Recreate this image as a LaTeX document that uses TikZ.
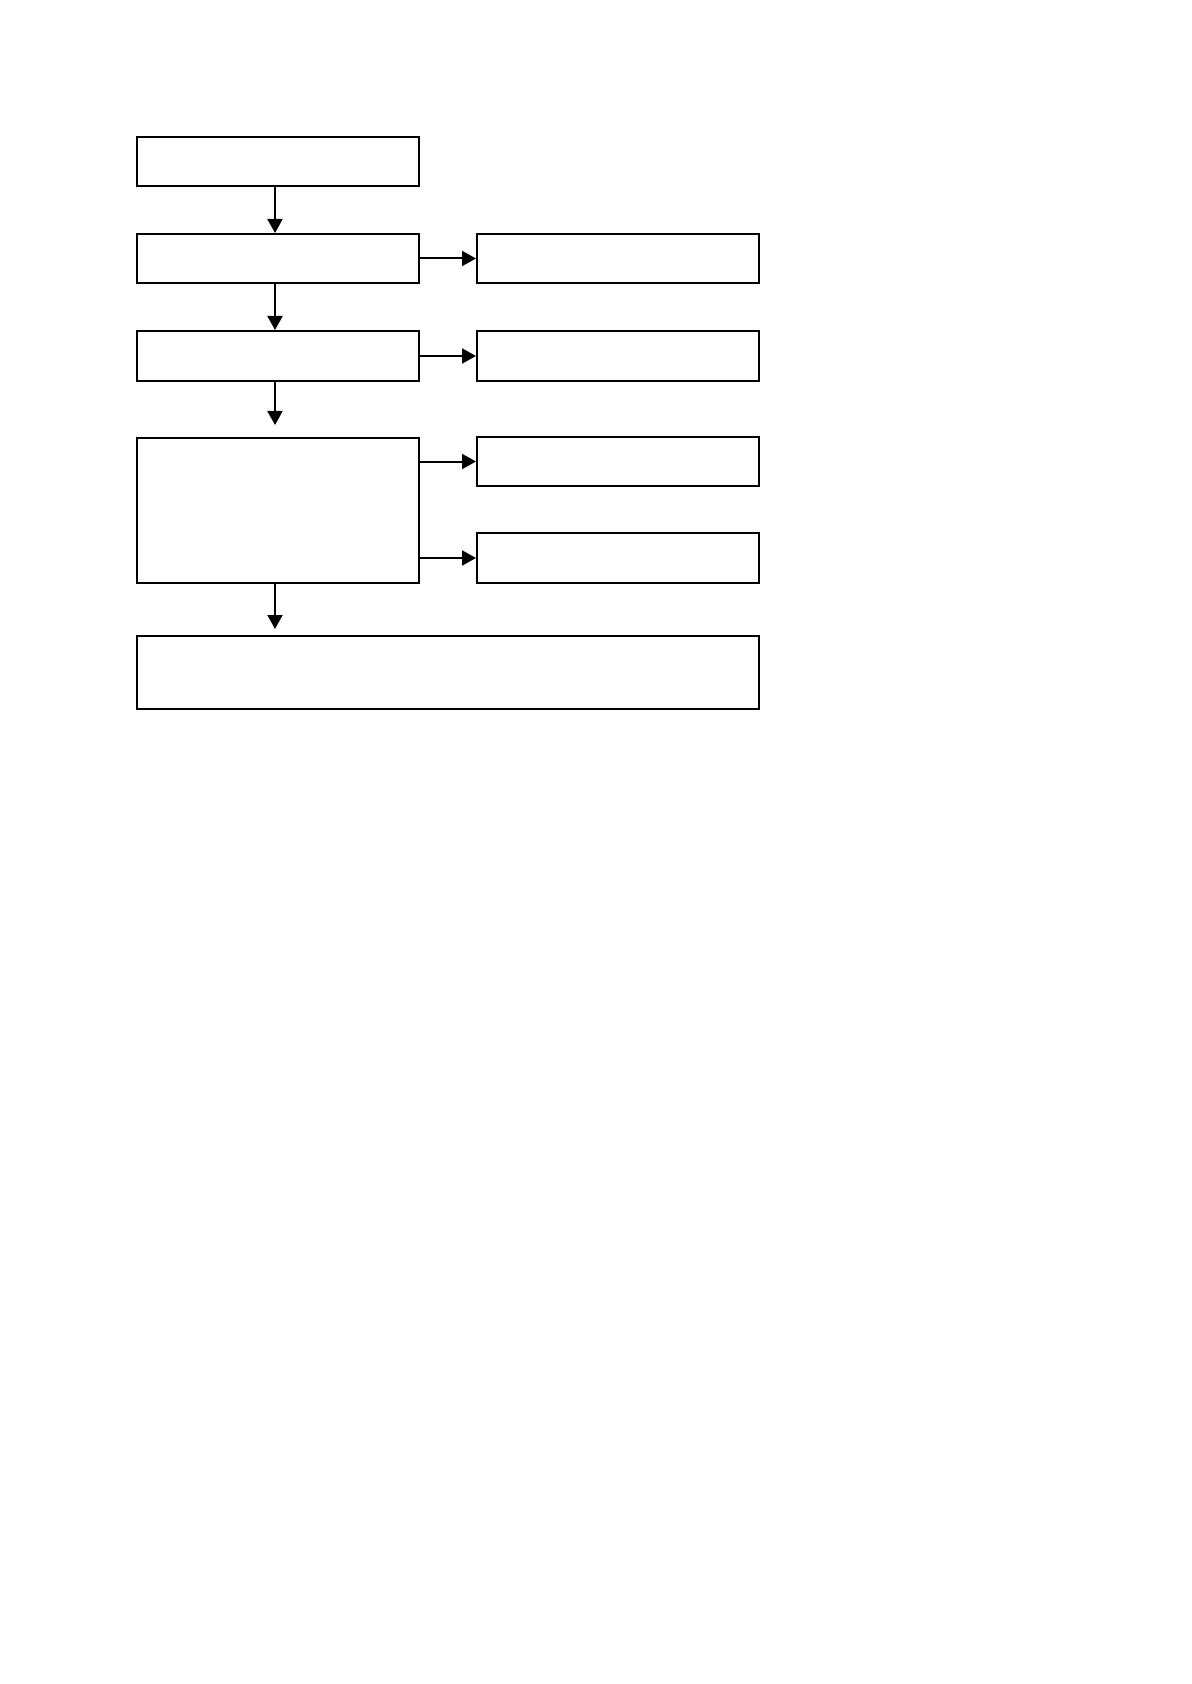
\documentclass[tikz,border=0pt]{standalone}
\usetikzlibrary{arrows.meta}
\begin{document}
\begin{tikzpicture}[x=0.5pt,y=-0.5pt,
  box/.style={draw,line width=1pt,rectangle,inner sep=0pt,anchor=north west},
  conn/.style={line width=1pt,-{Triangle[length=7pt,width=7.5pt]}}]
\useasboundingbox (0,0) rectangle (1191,1684);
\node[box,minimum width=141pt,minimum height=24.5pt] (b1) at (136,136) {};
\node[box,minimum width=141pt,minimum height=24.5pt] (b2) at (136,233) {};
\node[box,minimum width=141pt,minimum height=25pt] (b3) at (136,330) {};
\node[box,minimum width=141pt,minimum height=72.5pt] (b4) at (136,437) {};
\node[box,minimum width=141pt,minimum height=24.5pt] (r1) at (476,233) {};
\node[box,minimum width=141pt,minimum height=25pt] (r2) at (476,330) {};
\node[box,minimum width=141pt,minimum height=24.5pt] (r3) at (476,436) {};
\node[box,minimum width=141pt,minimum height=25pt] (r4) at (476,532) {};
\node[box,minimum width=311pt,minimum height=36.5pt] (b5) at (136,635) {};
\draw[conn] ([xshift=-1.5pt]b1.south) -- ([xshift=-1.5pt]b2.north);
\draw[conn] ([xshift=-1.5pt]b2.south) -- ([xshift=-1.5pt]b3.north);
\draw[conn,shorten >=6pt] ([xshift=-1.5pt]b3.south) -- ([xshift=-1.5pt]b4.north);
\draw[conn,shorten >=3pt] ([xshift=-1.5pt]b4.south) -- ([xshift=-1.5pt]b4.south |- b5.north);
\draw[conn] (b2.east) -- (r1.west);
\draw[conn] (b3.east) -- (r2.west);
\draw[conn] (b4.east |- r3.west) -- (r3.west);
\draw[conn] (b4.east |- r4.west) -- (r4.west);
\end{tikzpicture}
\end{document}
